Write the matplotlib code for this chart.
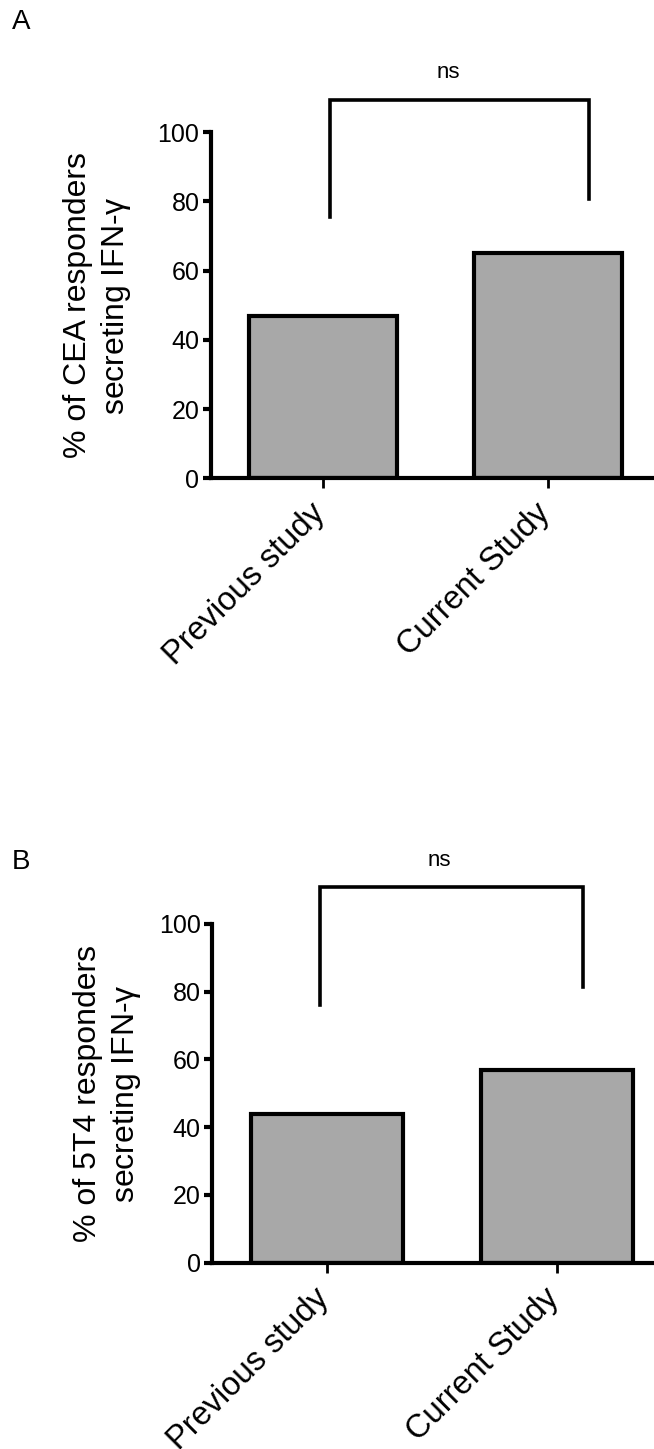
import numpy as np
import matplotlib as mpl
import matplotlib.pyplot as plt
import matplotlib.transforms as mtransforms

## Data ##
groups = ['Previous study', 'Current Study']
cea_pct = [47, 65]          # panel A
t54_pct = [44, 57]          # panel B
ylabels = ['% of CEA responders\nsecreting IFN-$\\gamma$',
           '% of 5T4 responders\nsecreting IFN-$\\gamma$']
panel_tags = ['A', 'B']
sig_text = ['ns', 'ns']
# bracket: left x, right x, top y, left foot y, right foot y (data units)
brackets = [[0.03, 1.18, 109.3, 75.6, 80.6],
            [-0.03, 1.11, 110.8, 76.1, 81.4]]
yticks = [0, 20, 40, 60, 80, 100]

plt.rcParams['font.family'] = ['Liberation Sans', 'DejaVu Sans']
plt.rcParams['mathtext.fontset'] = 'custom'
plt.rcParams['mathtext.rm'] = 'Liberation Sans'
plt.rcParams['mathtext.it'] = 'Liberation Sans'

W, H = 654, 1449
fig = plt.figure(figsize=(W/100, H/100), dpi=100)

## Layout in pixels: (axis left, axis 0 y, axis 100 y), xlim right, label x (axes coords), tag y
layout = [(210.5, 478.3, 132.3, 1.47, -0.175, 22),
          (211.7, 1262.7, 924.0, 1.42, -0.155, 862)]

for n, vals in enumerate([cea_pct, t54_pct]):
  xl, y0, y100, xmax, labx, tagy = layout[n]
  ax = fig.add_axes([xl/W, 1 - y0/H, 1 - xl/W, (y0 - y100)/H])
  x = np.arange(len(groups))
  ax.bar(x, vals, width=0.66, color='#a8a8a8', edgecolor='black', linewidth=3, zorder=2)
  ax.set_xlim(-0.5, xmax)
  ax.set_ylim(0, 100)
  ax.set_yticks(yticks)
  ax.set_xticks(x)
  for s in ['top', 'right']:
    ax.spines[s].set_visible(False)
  for s in ['left', 'bottom']:
    ax.spines[s].set_linewidth(3)
    ax.spines[s].set_zorder(3)
  ax.tick_params(axis='y', length=6, width=3, labelsize=18, pad=2)
  ax.tick_params(axis='x', length=7, width=2, pad=5)
  ax.set_xticklabels(groups, rotation=45, ha='right', va='top', fontsize=23.5)
  off = mtransforms.ScaledTranslation(8/100, -3/100, fig.dpi_scale_trans)
  for lab in ax.get_xticklabels():
    lab.set_transform(lab.get_transform() + off)
  ax.set_ylabel(ylabels[n], fontsize=23, linespacing=1.25)
  ax.yaxis.set_label_coords(labx, 0.5)

  ## Significance bracket ##
  bl, br, bt, fl, fr = brackets[n]
  ax.plot([bl, bl, br, br], [fl, bt, bt, fr], color='black', linewidth=2.6,
          clip_on=False, solid_joinstyle='miter')
  ax.text((bl + br)/2 - 0.05, bt + 8, sig_text[n], ha='center', va='center', fontsize=16)

  fig.text(12/W, 1 - tagy/H, panel_tags[n], ha='left', va='center', fontsize=20)

fig.savefig('out.png', dpi=100)
